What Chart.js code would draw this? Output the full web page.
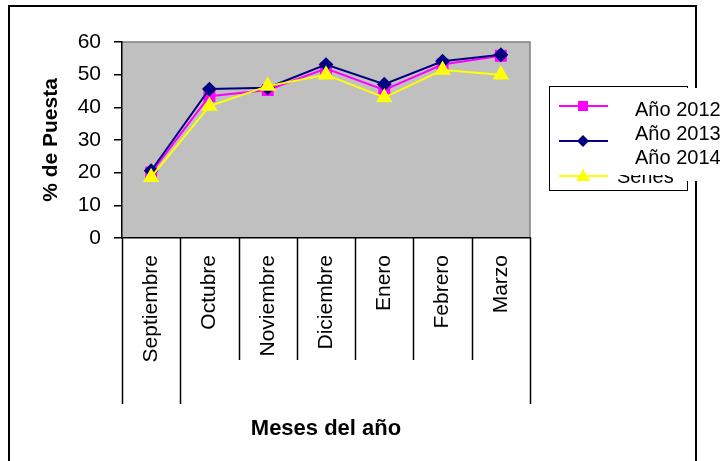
<!DOCTYPE html>
<html>
<head>
<meta charset="utf-8">
<script src="https://cdn.jsdelivr.net/npm/chart.js@4.4.1/dist/chart.umd.min.js"></script>
<style>
  html, body { margin: 0; padding: 0; background: #fff; }
  #wrap { width: 727px; height: 461px; position: relative; }
</style>
</head>
<body>
<div id="wrap"><canvas id="myChart" width="727" height="461"></canvas></div>
<script>
var meses = ["Septiembre", "Octubre", "Noviembre", "Diciembre", "Enero", "Febrero", "Marzo"];
var anio2012 = [20.0, 43.4, 45.3, 51.9, 45.3, 53.1, 55.8];
var anio2013 = [20.6, 45.6, 46.0, 53.1, 47.1, 54.1, 56.1];
var anio2014 = [18.6, 40.4, 46.5, 50.0, 43.0, 51.4, 50.0];
var yTicks = [0, 10, 20, 30, 40, 50, 60];
var serieOculta = "Series";

var fuente = "'Liberation Sans', Arial, sans-serif";

// fondo, marco exterior y area gris del grafico
var fondoPlugin = {
    id: 'fondo',
    beforeDraw: function(chart) {
        var c = chart.ctx;
        var a = chart.chartArea;
        c.save();
        c.fillStyle = '#ffffff';
        c.fillRect(0, 0, chart.width, chart.height);
        c.strokeStyle = '#000000';
        c.lineWidth = 2;
        c.beginPath();
        c.moveTo(9, chart.height);
        c.lineTo(9, 6);
        c.lineTo(696, 6);
        c.lineTo(696, chart.height);
        c.stroke();
        c.fillStyle = '#c0c0c0';
        c.fillRect(a.left, a.top, a.right - a.left, a.bottom - a.top);
        c.strokeStyle = '#808080';
        c.lineWidth = 1.5;
        c.beginPath();
        c.moveTo(a.left, a.top);
        c.lineTo(a.right, a.top);
        c.lineTo(a.right, a.bottom);
        c.stroke();
        c.restore();
    },
    afterDraw: function(chart) {
        var c = chart.ctx;
        var a = chart.chartArea;
        var x = chart.scales.x;
        c.save();
        // separadores de categorias
        c.strokeStyle = '#000000';
        c.lineWidth = 1.5;
        for (var i = 0; i <= meses.length; i++) {
            var px = Math.round(x.getPixelForValue(i - 0.5)) + 0.5;
            var largo = (i == 0 || i == 1 || i == meses.length) ? 166 : 122;
            c.beginPath();
            c.moveTo(px, a.bottom);
            c.lineTo(px, a.bottom + largo);
            c.stroke();
        }

        // leyenda (como en el original, con el texto tapando)
        c.lineWidth = 1;
        c.strokeRect(549.5, 86.5, 138, 104);
        var sets = chart.data.datasets;
        for (var j = 0; j < sets.length; j++) {
            var ly = 106 + 35 * j;
            var ds = sets[j];
            c.strokeStyle = ds.borderColor;
            c.fillStyle = ds.borderColor;
            c.lineWidth = 2;
            c.beginPath();
            c.moveTo(559, ly);
            c.lineTo(608, ly);
            c.stroke();
            var mx = 583;
            c.beginPath();
            if (ds.pointStyle == 'rect') {
                c.rect(mx - 5, ly - 5, 10, 10);
            } else if (ds.pointStyle == 'rectRot') {
                c.moveTo(mx, ly - 6);
                c.lineTo(mx + 6, ly);
                c.lineTo(mx, ly + 6);
                c.lineTo(mx - 6, ly);
                c.closePath();
            } else {
                c.moveTo(mx, ly - 7);
                c.lineTo(mx + 7, ly + 5);
                c.lineTo(mx - 7, ly + 5);
                c.closePath();
            }
            c.fill();
        }
        c.fillStyle = '#000000';
        c.font = "20px " + fuente;
        c.textBaseline = 'middle';
        c.textAlign = 'left';
        c.fillText(serieOculta, 617, 177);
        c.fillStyle = '#ffffff';
        c.fillRect(612, 88, 115, 87);
        c.fillRect(686, 88, 14, 93);
        c.fillStyle = '#000000';
        var tys = [110, 134, 158];
        for (var k = 0; k < sets.length; k++) {
            c.fillText(sets[k].label, 635, tys[k]);
        }
        c.restore();
    }
};

var ctx = document.getElementById('myChart').getContext('2d');

var chart = new Chart(ctx, {
    type: 'line',
    data: {
        labels: meses,
        datasets: [{
            label: 'Año 2012',
            data: anio2012,
            borderColor: '#ff00ff',
            backgroundColor: '#ff00ff',
            pointStyle: 'rect',
            pointRadius: 7,
            borderWidth: 2,
            order: 3
        }, {
            label: 'Año 2013',
            data: anio2013,
            borderColor: '#000080',
            backgroundColor: '#000080',
            pointStyle: 'rectRot',
            pointRadius: 6,
            borderWidth: 2,
            order: 2
        }, {
            label: 'Año 2014',
            data: anio2014,
            borderColor: '#ffff00',
            backgroundColor: '#ffff00',
            pointStyle: 'triangle',
            pointRadius: 7.5,
            borderWidth: 2,
            order: 1
        }]
    },
    options: {
        responsive: false,
        animation: false,
        layout: { padding: { top: 42, right: 197, left: 0, bottom: 0 } },
        plugins: {
            legend: { display: false },
            tooltip: { enabled: false }
        },
        elements: {
            line: { tension: 0 },
            point: { borderWidth: 1 }
        },
        scales: {
            x: {
                offset: true,
                grid: { display: false },
                border: { display: true, color: '#000000', width: 1.5 },
                ticks: {
                    color: '#000000',
                    font: { family: fuente, size: 21 },
                    minRotation: 90,
                    maxRotation: 90,
                    autoSkip: false,
                    padding: 9
                },
                title: {
                    display: true,
                    text: 'Meses del año',
                    color: '#000000',
                    font: { family: fuente, size: 22, weight: 'bold' },
                    padding: { top: 0, bottom: 19 }
                },
                afterFit: function(s) { s.height = 223; }
            },
            y: {
                min: 0,
                max: 60,
                afterBuildTicks: function(s) {
                    s.ticks = yTicks.map(function(v) { return { value: v }; });
                },
                grid: {
                    display: true,
                    drawOnChartArea: false,
                    drawTicks: true,
                    tickLength: 8,
                    color: '#000000',
                    lineWidth: 1.5
                },
                border: { display: true, color: '#000000', width: 1.5 },
                ticks: {
                    color: '#000000',
                    font: { family: fuente, size: 21 },
                    padding: 13
                },
                title: {
                    display: true,
                    text: '% de Puesta',
                    color: '#000000',
                    font: { family: fuente, size: 21, weight: 'bold' },
                    padding: { top: 39, bottom: 0 }
                },
                afterFit: function(s) { s.width = 122; }
            }
        }
    },
    plugins: [fondoPlugin]
});
</script>
</body>
</html>
